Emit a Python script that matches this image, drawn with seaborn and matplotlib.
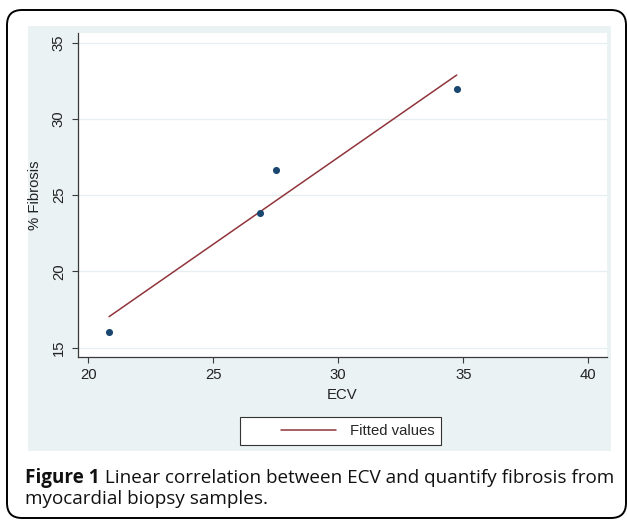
import matplotlib
matplotlib.use("Agg")
import matplotlib.pyplot as plt
from matplotlib.patches import Rectangle, FancyBboxPatch
from matplotlib.legend_handler import HandlerLine2D
import pandas as pd
import seaborn as sns

# values
ecv = [20.83, 26.87, 27.51, 34.74]
fibrosis = [16.03, 23.86, 26.64, 31.95]
x_ticks = [20, 25, 30, 35, 40]
y_ticks = [15, 20, 25, 30, 35]
fit_label = "Fitted values"

df = pd.DataFrame({"ECV": ecv, "% Fibrosis": fibrosis})

sns.set_style("white")
plt.rcParams["font.family"] = ["Liberation Sans", "DejaVu Sans"]

W, H = 627, 520
fig = plt.figure(figsize=(W / 100, H / 100), dpi=100)


def fx(px):
    return px / W


def fy(py):
    return 1 - py / H


# stata-like light blue graph region
fig.patches.append(Rectangle((fx(28), fy(450.7)), fx(610.7) - fx(28), (450.7 - 26) / H,
                             transform=fig.transFigure, facecolor="#eaf2f3",
                             edgecolor="none", zorder=-2))
# rounded outer frame
fig.patches.append(FancyBboxPatch((0.07, 0.02), 6.19, 5.08,
                                  boxstyle="round,pad=0,rounding_size=0.15",
                                  transform=fig.dpi_scale_trans, facecolor="none",
                                  edgecolor="black", lw=1.4, zorder=-1))

ax = fig.add_axes([fx(78.3), fy(357.3), fx(606.7) - fx(78.3), (357.3 - 33) / H])
ax.set_facecolor("white")

sns.regplot(data=df, x="ECV", y="% Fibrosis", ax=ax, ci=None, truncate=True,
            scatter_kws=dict(color="#1a476f", s=26, linewidths=0, alpha=1, zorder=3),
            line_kws=dict(color="#90353b", lw=1.1, label=fit_label, zorder=2))

ax.set_xlim(19.6, 40.74)
ax.set_ylim(14.37, 35.64)
ax.set_xticks(x_ticks)
ax.set_yticks(y_ticks)

for side in ["top", "right"]:
    ax.spines[side].set_visible(False)
for side in ["left", "bottom"]:
    ax.spines[side].set_color("#3a3a3a")
    ax.spines[side].set_linewidth(0.9)

ax.yaxis.grid(True, color="#e6eef0", lw=0.9)
ax.xaxis.grid(False)
ax.set_axisbelow(True)

ax.tick_params(axis="both", direction="out", length=4, width=0.8, color="#3a3a3a",
               labelsize=10.7, labelcolor="#222222", bottom=True, left=True)
ax.tick_params(axis="x", pad=4)
ax.tick_params(axis="y", pad=5, labelrotation=90)
for lab in ax.get_yticklabels():
    lab.set_va("center")

ax.set_xlabel("ECV", fontsize=10.7, color="#222222", labelpad=4)
ax.set_ylabel("% Fibrosis", fontsize=10.7, color="#222222", labelpad=7)

handles, labels = ax.get_legend_handles_labels()
leg = fig.legend(handles=handles, labels=labels, loc="center",
                 bbox_to_anchor=(fx(340.5), fy(431)),
                 handler_map={handles[0]: HandlerLine2D(xpad=2.34)},
                 handlelength=6.05, handletextpad=0.9, borderpad=0.45,
                 frameon=True, fancybox=False, edgecolor="#333333",
                 framealpha=1, fontsize=10.7)
leg.get_frame().set_linewidth(0.8)

# caption
cap_font = ["Open Sans", "DejaVu Sans"]
cap_size = 13.6
t1 = fig.text(fx(25), fy(483), "Figure 1", fontsize=cap_size, fontweight="bold",
              family=cap_font, va="baseline", color="#111111")
fig.canvas.draw()
bb = t1.get_window_extent()
fig.text(bb.x1 / W, fy(483), " Linear correlation between ECV and quantify fibrosis from",
         fontsize=cap_size, family=cap_font, va="baseline", color="#111111")
fig.text(fx(25), fy(504.5), "myocardial biopsy samples.", fontsize=cap_size,
         family=cap_font, va="baseline", color="#111111")

fig.savefig("out.png", dpi=100)
